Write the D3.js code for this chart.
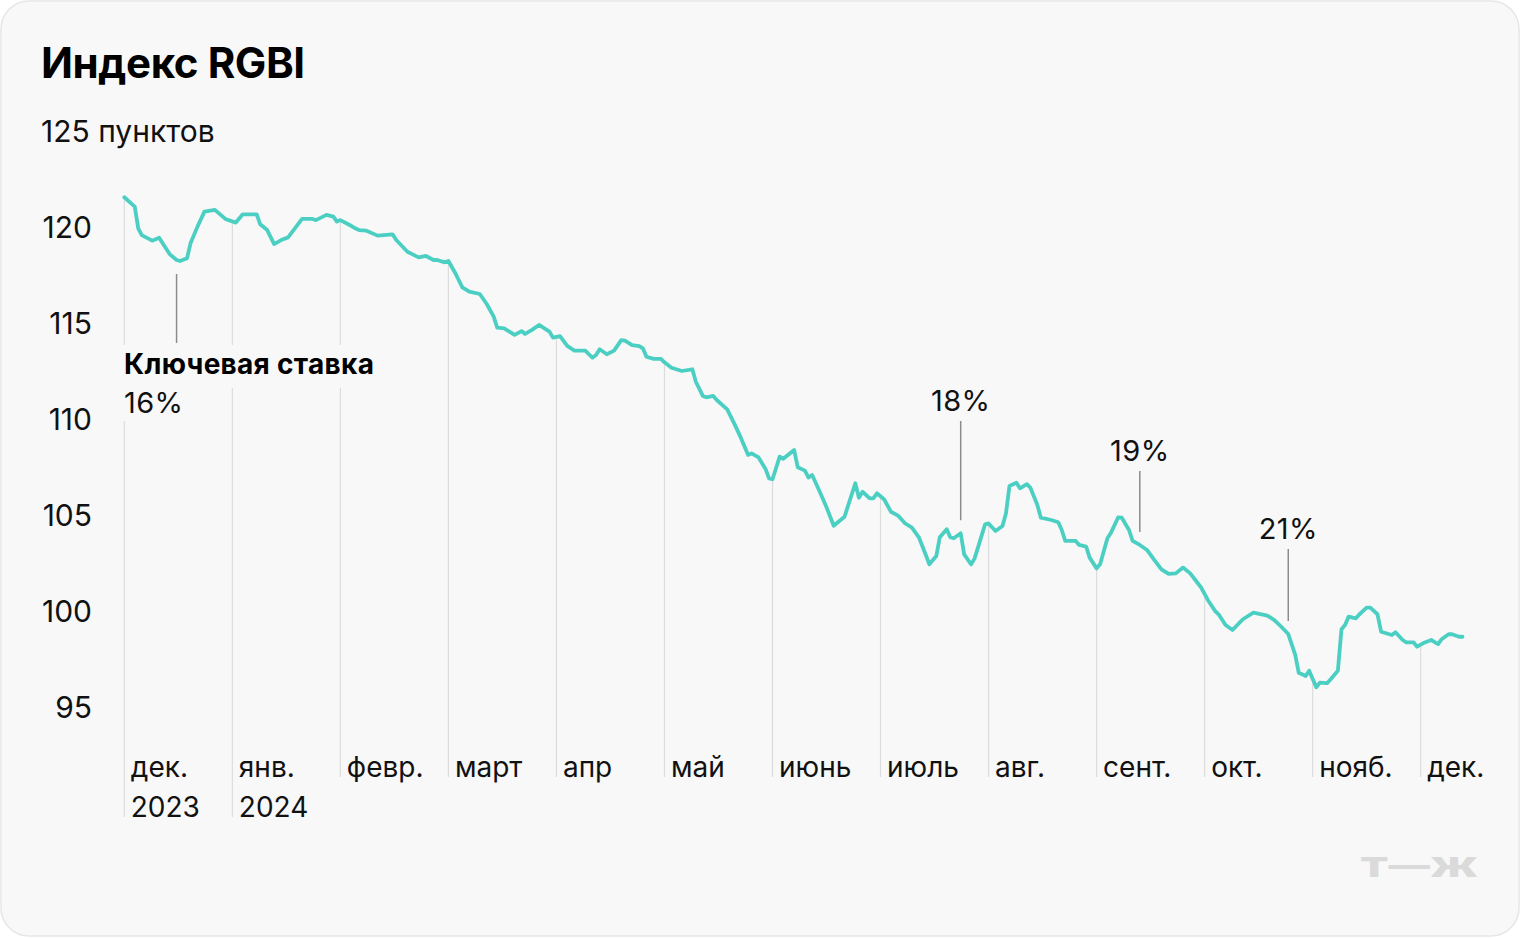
<!DOCTYPE html>
<html lang="ru">
<head>
<meta charset="utf-8">
<script src="https://cdn.jsdelivr.net/npm/d3@7/dist/d3.min.js"></script>
<style>
  html, body { margin: 0; padding: 0; background: #ffffff; }
  svg { display: block; }
  text { font-family: "Inter", "Roboto", sans-serif; }
</style>
</head>
<body>
<svg id="chart" width="1520" height="938"></svg>
<script>
// ---------- DATA ----------
const title = "Индекс RGBI";
const unitLabel = "пунктов";

const monthLabels = ["дек.", "янв.", "февр.", "март", "апр", "май", "июнь", "июль", "авг.", "сент.", "окт.", "нояб.", "дек."];
const yearLabels = ["2023", "2024", "", "", "", "", "", "", "", "", "", "", ""];
const yTicks = [95, 100, 105, 110, 115, 120, 125];

const dates = [
  "2023-12-01","2023-12-04","2023-12-05","2023-12-06","2023-12-09","2023-12-11","2023-12-12","2023-12-14","2023-12-16","2023-12-17","2023-12-19","2023-12-20","2023-12-22","2023-12-24","2023-12-27","2023-12-30",
  "2024-01-02","2024-01-04","2024-01-08","2024-01-09","2024-01-11","2024-01-13","2024-01-15","2024-01-17","2024-01-21","2024-01-24","2024-01-25","2024-01-28","2024-01-30","2024-01-31",
  "2024-02-01","2024-02-04","2024-02-05","2024-02-06","2024-02-08","2024-02-11","2024-02-15","2024-02-16","2024-02-19","2024-02-22","2024-02-24","2024-02-26","2024-02-27","2024-02-29",
  "2024-03-01","2024-03-03","2024-03-05","2024-03-07","2024-03-10","2024-03-12","2024-03-14","2024-03-15","2024-03-17","2024-03-20","2024-03-22","2024-03-23","2024-03-25","2024-03-27","2024-03-30","2024-03-31",
  "2024-04-02","2024-04-04","2024-04-06","2024-04-09","2024-04-11","2024-04-12","2024-04-13","2024-04-15","2024-04-17","2024-04-19","2024-04-20","2024-04-22","2024-04-24","2024-04-25","2024-04-26","2024-04-28","2024-04-30",
  "2024-05-01","2024-05-03","2024-05-06","2024-05-09","2024-05-10","2024-05-12","2024-05-13","2024-05-15","2024-05-16","2024-05-19","2024-05-21","2024-05-23","2024-05-25","2024-05-26","2024-05-28","2024-05-30","2024-05-31",
  "2024-06-01","2024-06-03","2024-06-04","2024-06-07","2024-06-08","2024-06-10","2024-06-11","2024-06-12","2024-06-14","2024-06-16","2024-06-18","2024-06-21","2024-06-24","2024-06-25","2024-06-26","2024-06-28","2024-06-29","2024-06-30",
  "2024-07-02","2024-07-04","2024-07-06","2024-07-08","2024-07-10","2024-07-12","2024-07-14","2024-07-15","2024-07-17","2024-07-18","2024-07-20","2024-07-21","2024-07-22","2024-07-24","2024-07-25","2024-07-27","2024-07-28","2024-07-31",
  "2024-08-01","2024-08-03","2024-08-05","2024-08-06","2024-08-07","2024-08-09","2024-08-10","2024-08-12","2024-08-13","2024-08-15","2024-08-16","2024-08-19","2024-08-21","2024-08-22","2024-08-23","2024-08-26","2024-08-27","2024-08-29","2024-08-30",
  "2024-09-01","2024-09-02","2024-09-04","2024-09-05","2024-09-07","2024-09-08","2024-09-10","2024-09-11","2024-09-13","2024-09-15","2024-09-17","2024-09-19","2024-09-21","2024-09-23","2024-09-25","2024-09-27","2024-09-29","2024-09-30",
  "2024-10-02","2024-10-04","2024-10-05","2024-10-07","2024-10-09","2024-10-11","2024-10-12","2024-10-15","2024-10-16","2024-10-19","2024-10-21","2024-10-23","2024-10-25","2024-10-27","2024-10-28","2024-10-30","2024-10-31",
  "2024-11-02","2024-11-03","2024-11-05","2024-11-06","2024-11-08","2024-11-09","2024-11-10","2024-11-11","2024-11-13","2024-11-14","2024-11-16","2024-11-17","2024-11-19","2024-11-20","2024-11-23","2024-11-24","2024-11-26","2024-11-27","2024-11-29","2024-11-30",
  "2024-12-02","2024-12-04","2024-12-06","2024-12-07","2024-12-09","2024-12-10","2024-12-12","2024-12-13"
];
const values = [
  121.55,121.06,119.93,119.58,119.29,119.44,119.15,118.59,118.28,118.23,118.37,119.15,120.02,120.80,120.89,120.42,
  120.23,120.66,120.66,120.14,119.84,119.11,119.32,119.46,120.42,120.42,120.36,120.63,120.54,120.28,
  120.36,120.05,119.93,119.84,119.81,119.55,119.62,119.32,118.71,118.42,118.49,118.28,118.28,118.16,
  118.23,117.59,116.86,116.63,116.51,115.99,115.33,114.76,114.72,114.38,114.58,114.43,114.64,114.90,114.55,114.24,
  114.32,113.81,113.56,113.56,113.19,113.33,113.63,113.37,113.56,114.11,114.08,113.85,113.80,113.68,113.24,113.13,113.13,
  112.95,112.67,112.50,112.59,111.94,111.20,111.13,111.20,110.99,110.50,109.77,108.99,108.13,108.21,108.00,107.40,106.91,
  106.86,108.04,107.93,108.39,107.49,107.31,106.95,107.08,106.26,105.40,104.44,104.91,106.65,105.90,106.21,105.87,105.87,106.13,
  105.82,105.17,104.97,104.57,104.34,103.84,102.92,102.43,102.86,103.84,104.26,103.84,103.79,104.05,102.95,102.43,102.74,104.51,
  104.56,104.17,104.43,105.09,106.51,106.68,106.39,106.61,106.42,105.52,104.86,104.74,104.62,104.22,103.65,103.65,103.44,103.35,102.78,
  102.22,102.45,103.79,104.08,104.88,104.86,104.22,103.65,103.44,103.18,102.66,102.17,101.93,101.96,102.26,101.96,101.47,101.23,
  100.55,100.00,99.83,99.27,99.01,99.39,99.57,99.91,99.88,99.76,99.53,99.18,98.80,97.71,96.78,96.61,96.89,
  96.03,96.27,96.24,96.45,96.89,99.05,99.27,99.71,99.62,99.83,100.18,100.18,99.83,98.92,98.75,98.89,98.49,98.37,98.37,98.14,
  98.35,98.49,98.28,98.53,98.79,98.79,98.66,98.66
];

// Key-rate changes (annotations)
const rateDates = ["2023-12-16", "2024-07-24", "2024-09-13", "2024-10-25"];
const rateLabels = ["16%", "18%", "19%", "21%"];
const rateTitle = "Ключевая ставка";

// ---------- LAYOUT ----------
const W = 1520, H = 938;
const svg = d3.select("#chart");
const BG = "#f8f8f8";
// baseline of annotation labels placed above the line (layout only)
const annLabelBaseline = [null, 411, 461, 539];

svg.append("rect")
  .attr("x", 1).attr("y", 1).attr("width", W - 2).attr("height", H - 3)
  .attr("rx", 28).attr("ry", 28)
  .attr("fill", BG).attr("stroke", "#e6e6e6").attr("stroke-width", 1.5);

// month-position helper: equal spacing per month
function monthPos(s) {
  const [yy, mm, dd] = s.split("-").map(Number);
  const idx = (yy - 2023) * 12 + (mm - 1) - 11;
  const dim = new Date(yy, mm, 0).getDate();
  return idx + (dd - 1) / dim;
}

const x = d3.scaleLinear().domain([0, 12]).range([124.3, 1420.7]);
const y = d3.scaleLinear().domain([95, 125]).range([707, 131]);

const data = dates.map((d, i) => ({ m: monthPos(d), v: values[i] }));

function valueAt(m) {
  for (let i = 0; i < data.length - 1; i++) {
    if (data[i].m <= m && data[i + 1].m >= m) {
      const t = (m - data[i].m) / (data[i + 1].m - data[i].m);
      return data[i].v + t * (data[i + 1].v - data[i].v);
    }
  }
  return m <= data[0].m ? data[0].v : data[data.length - 1].v;
}

// ---------- TITLE ----------
svg.append("text")
  .attr("x", 41).attr("y", 78)
  .attr("font-size", 42).attr("font-weight", 700)
  .attr("letter-spacing", -0.4)
  .attr("fill", "#000")
  .text(title);

// ---------- Y AXIS LABELS ----------
const yAxisG = svg.append("g");
yAxisG.selectAll("text.ytick")
  .data(yTicks.filter(t => t !== 125))
  .join("text")
  .attr("class", "ytick")
  .attr("x", 92)
  .attr("y", d => y(d))
  .attr("dy", "0.36em")
  .attr("text-anchor", "end")
  .attr("font-size", 30)
  .attr("fill", "#111")
  .text(d => d);
yAxisG.append("text")
  .attr("x", 41).attr("y", y(125))
  .attr("dy", "0.36em")
  .attr("font-size", 30)
  .attr("fill", "#111")
  .text(yTicks[yTicks.length - 1] + " " + unitLabel);

// ---------- MONTH GRID + LABELS ----------
const gridG = svg.append("g");
monthLabels.forEach((lab, i) => {
  const gx = x(i);
  const top = y(valueAt(i));
  const bottom = yearLabels[i] ? 817 : 777;
  gridG.append("line")
    .attr("x1", gx).attr("x2", gx)
    .attr("y1", top).attr("y2", bottom)
    .attr("stroke", "#dcdcdc").attr("stroke-width", 1.2);
  gridG.append("text")
    .attr("x", gx + 6.5).attr("y", 777)
    .attr("font-size", 28).attr("fill", "#111")
    .text(lab);
  if (yearLabels[i]) {
    gridG.append("text")
      .attr("x", gx + 6.5).attr("y", 817)
      .attr("font-size", 28).attr("fill", "#111")
      .text(yearLabels[i]);
  }
});

// ---------- ANNOTATIONS ----------
const annG = svg.append("g");
rateDates.forEach((d, i) => {
  const m = monthPos(d);
  const ax = x(m);
  const dy = y(valueAt(m));
  if (i === 0) {
    annG.append("rect").attr("x", 116).attr("y", 345).attr("width", 268).attr("height", 43).attr("fill", BG);
    annG.append("rect").attr("x", 116).attr("y", 388).attr("width", 76).attr("height", 33).attr("fill", BG);
    annG.append("line")
      .attr("x1", ax).attr("x2", ax)
      .attr("y1", dy + 14).attr("y2", 343)
      .attr("stroke", "#8c8c8c").attr("stroke-width", 1.5);
    annG.append("text")
      .attr("x", 124).attr("y", 374)
      .attr("font-size", 28).attr("font-weight", 700).attr("fill", "#000")
      .attr("letter-spacing", 0.3)
      .text(rateTitle);
    annG.append("text")
      .attr("x", 124).attr("y", 413)
      .attr("font-size", 29).attr("fill", "#111")
      .attr("letter-spacing", 0.4)
      .text(rateLabels[i]);
  } else {
    const ty = annLabelBaseline[i];
    annG.append("line")
      .attr("x1", ax).attr("x2", ax)
      .attr("y1", ty + 10).attr("y2", dy - 13)
      .attr("stroke", "#8c8c8c").attr("stroke-width", 1.5);
    annG.append("text")
      .attr("x", ax).attr("y", ty)
      .attr("text-anchor", "middle")
      .attr("font-size", 29).attr("fill", "#111")
      .attr("letter-spacing", 0.4)
      .text(rateLabels[i]);
  }
});

// ---------- LINE ----------
const line = d3.line()
  .x(d => x(d.m))
  .y(d => y(d.v))
  .curve(d3.curveLinear);

svg.append("path")
  .datum(data)
  .attr("d", line)
  .attr("fill", "none")
  .attr("stroke", "#4ccfc3")
  .attr("stroke-width", 3.8)
  .attr("stroke-linejoin", "round")
  .attr("stroke-linecap", "round");

// ---------- LOGO ----------
svg.append("text")
  .attr("x", 1360).attr("y", 877)
  .attr("font-size", 27).attr("font-weight", 900)
  .attr("fill", "#dadada")
  .attr("textLength", 118).attr("lengthAdjust", "spacingAndGlyphs")
  .text("Т—Ж");
</script>
</body>
</html>
